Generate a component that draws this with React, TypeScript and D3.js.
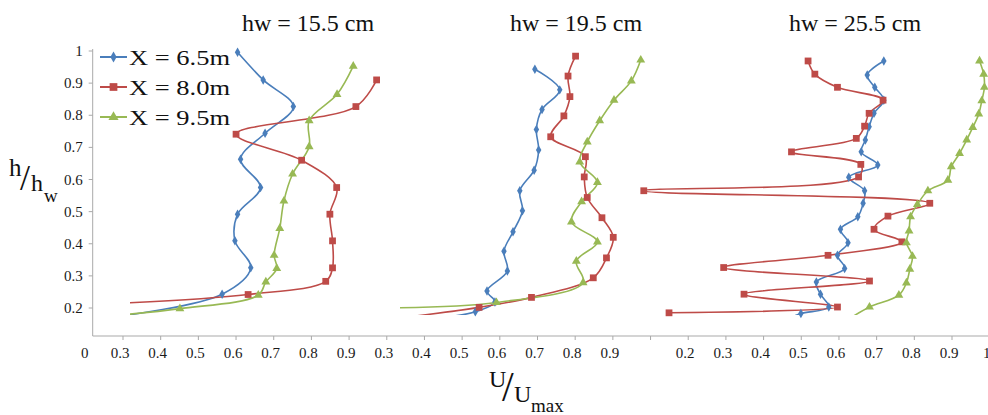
import { useEffect, useRef } from 'react';
import * as d3 from 'd3';

type Pt = [number, number]; // [U/Umax, h/hw]

// panel 1 : hw = 15.5 cm
const p1Blue: Pt[] = [[0.612, 0.996], [0.680, 0.910], [0.760, 0.827], [0.685, 0.744], [0.620, 0.663], [0.673, 0.575], [0.612, 0.492], [0.605, 0.409], [0.647, 0.325], [0.571, 0.243], [0.30, 0.175]];
const p1Red: Pt[] = [[0.981, 0.910], [0.926, 0.827], [0.608, 0.741], [0.782, 0.660], [0.875, 0.575], [0.857, 0.492], [0.864, 0.409], [0.864, 0.325], [0.846, 0.283], [0.640, 0.242], [0.30, 0.215]];
const p1Green: Pt[] = [[0.919, 0.953], [0.876, 0.865], [0.802, 0.783], [0.802, 0.702], [0.758, 0.617], [0.735, 0.533], [0.724, 0.448], [0.709, 0.364], [0.716, 0.323], [0.687, 0.281], [0.667, 0.240], [0.459, 0.198], [0.30, 0.178]];

// panel 2 : hw = 19.5 cm
const p2Blue: Pt[] = [[0.701, 0.943], [0.767, 0.879], [0.720, 0.818], [0.705, 0.756], [0.711, 0.692], [0.699, 0.629], [0.661, 0.565], [0.668, 0.503], [0.643, 0.437], [0.619, 0.377], [0.628, 0.315], [0.574, 0.253], [0.595, 0.219], [0.543, 0.188], [0.45, 0.17]];
const p2Red: Pt[] = [[0.809, 0.984], [0.789, 0.922], [0.794, 0.858], [0.778, 0.798], [0.743, 0.733], [0.835, 0.671], [0.832, 0.608], [0.840, 0.544], [0.879, 0.481], [0.909, 0.420], [0.891, 0.356], [0.856, 0.294], [0.692, 0.233], [0.553, 0.202], [0.35, 0.17]];
const p2Green: Pt[] = [[0.982, 0.972], [0.957, 0.907], [0.911, 0.847], [0.873, 0.783], [0.840, 0.717], [0.820, 0.655], [0.867, 0.591], [0.825, 0.531], [0.798, 0.468], [0.867, 0.406], [0.811, 0.346], [0.829, 0.279], [0.599, 0.217], [0.30, 0.20]];

// panel 3 : hw = 25.5 cm
const p3Blue: Pt[] = [[0.727, 0.969], [0.683, 0.925], [0.703, 0.887], [0.727, 0.847], [0.701, 0.806], [0.688, 0.764], [0.678, 0.723], [0.667, 0.686], [0.711, 0.645], [0.634, 0.607], [0.676, 0.565], [0.672, 0.526], [0.658, 0.484], [0.612, 0.445], [0.632, 0.403], [0.604, 0.364], [0.623, 0.323], [0.548, 0.281], [0.559, 0.243], [0.581, 0.203], [0.507, 0.183], [0.48, 0.17]];
const p3Red: Pt[] = [[0.526, 0.969], [0.544, 0.928], [0.604, 0.887], [0.725, 0.847], [0.688, 0.806], [0.676, 0.766], [0.654, 0.728], [0.482, 0.686], [0.666, 0.647], [0.660, 0.608], [0.090, 0.565], [0.849, 0.526], [0.738, 0.486], [0.701, 0.445], [0.775, 0.406], [0.579, 0.364], [0.302, 0.326], [0.689, 0.284], [0.356, 0.243], [0.604, 0.203], [0.157, 0.185]];
const p3Green: Pt[] = [[0.981, 0.969], [0.992, 0.928], [0.994, 0.887], [0.987, 0.845], [0.979, 0.804], [0.963, 0.762], [0.947, 0.723], [0.928, 0.681], [0.906, 0.640], [0.897, 0.598], [0.844, 0.565], [0.816, 0.522], [0.798, 0.484], [0.794, 0.440], [0.787, 0.403], [0.803, 0.361], [0.796, 0.321], [0.787, 0.278], [0.767, 0.240], [0.689, 0.203], [0.64, 0.17]];

const panelTitles = ['hw = 15.5 cm', 'hw = 19.5 cm', 'hw = 25.5 cm'];
const seriesNames = ['X = 6.5m', 'X = 8.0m', 'X = 9.5m'];
const yTicks = [0.2, 0.3, 0.4, 0.5, 0.6, 0.7, 0.8, 0.9, 1];
const xTicksP1 = [0.3, 0.4, 0.5, 0.6, 0.7, 0.8, 0.9];
const xTicksP2 = [0.3, 0.4, 0.5, 0.6, 0.7, 0.8, 0.9];
const xTicksP3 = [0.1, 0.2, 0.3, 0.4, 0.5, 0.6, 0.7, 0.8, 0.9, 1];
const hiddenLabelsP3 = [0.1];

const FONT = "'Liberation Serif', 'Times New Roman', Times, serif";

export default function App() {
    const svgRef = useRef<SVGSVGElement>(null);

    useEffect(() => {
        if (!svgRef.current) return;
        document.body.style.margin = '0';
        const svg = d3.select(svgRef.current);
        svg.selectAll('*').remove();

        const axisColor = '#a9a9a9';
        const textColor = '#1a1a1a';
        const colors = ['#4a7ebb', '#be4b48', '#98b954'];
        const symbols = [d3.symbolDiamond, d3.symbolSquare, d3.symbolTriangle];
        const symbolSizes = [26, 46, 34];

        // the three panels share one long x axis, each shifted along it
        const offsets = [0, 0.7, 1.6];
        const x = d3.scaleLinear().domain([0.3, 2.5]).range([120, 949]);
        const y = d3.scaleLinear().domain([0.2, 1]).range([308, 51]);
        const axisX = 92.7;
        const axisY = 336;

        const panels = [
            { series: [p1Blue, p1Red, p1Green], ticks: xTicksP1, hidden: [] as number[], clip: [130, 395], titleX: 308 },
            { series: [p2Blue, p2Red, p2Green], ticks: xTicksP2, hidden: [] as number[], clip: [400, 660], titleX: 576 },
            { series: [p3Blue, p3Red, p3Green], ticks: xTicksP3, hidden: hiddenLabelsP3, clip: [636, 988], titleX: 855 },
        ];
        const clipTop = 40;
        const clipBottom = 315;

        const defs = svg.append('defs');
        panels.forEach((p, i) => {
            defs.append('clipPath')
                .attr('id', `clip-${i}`)
                .append('rect')
                .attr('x', p.clip[0])
                .attr('y', clipTop)
                .attr('width', p.clip[1] - p.clip[0])
                .attr('height', clipBottom - clipTop);
        });

        // Y axis
        svg.append('line')
            .attr('x1', axisX).attr('x2', axisX)
            .attr('y1', y(1) - 2).attr('y2', axisY)
            .attr('stroke', axisColor);
        svg.selectAll('.ytick')
            .data(yTicks)
            .enter()
            .append('line')
            .attr('x1', axisX - 4).attr('x2', axisX)
            .attr('y1', d => y(d)).attr('y2', d => y(d))
            .attr('stroke', axisColor);
        svg.selectAll('.ylabel')
            .data(yTicks)
            .enter()
            .append('text')
            .attr('x', axisX - 10)
            .attr('y', d => y(d) + 5)
            .attr('text-anchor', 'end')
            .style('font-size', '15px')
            .attr('fill', textColor)
            .text(d => d === 1 ? '1' : d.toFixed(1));

        // X axis
        svg.append('line')
            .attr('x1', axisX).attr('x2', 988)
            .attr('y1', axisY).attr('y2', axisY)
            .attr('stroke', axisColor);
        svg.append('text')
            .attr('x', axisX - 8)
            .attr('y', 358)
            .attr('text-anchor', 'middle')
            .style('font-size', '15px')
            .attr('fill', textColor)
            .text('0');

        panels.forEach((p, i) => {
            const off = offsets[i];
            const g = svg.append('g');
            g.selectAll('.xtick')
                .data(p.ticks)
                .enter()
                .append('line')
                .attr('x1', d => x(d + off) + 3).attr('x2', d => x(d + off) + 3)
                .attr('y1', axisY).attr('y2', axisY + 4)
                .attr('stroke', axisColor);
            g.selectAll('.xlabel')
                .data(p.ticks.filter(d => !p.hidden.includes(d)))
                .enter()
                .append('text')
                .attr('x', d => x(d + off))
                .attr('y', 358)
                .attr('text-anchor', 'middle')
                .style('font-size', '15px')
                .attr('fill', textColor)
                .text(d => d === 1 ? '1' : d.toFixed(1));

            // panel title
            svg.append('text')
                .attr('x', p.titleX)
                .attr('y', 31)
                .attr('text-anchor', 'middle')
                .style('font-size', '24px')
                .attr('fill', '#111')
                .text(panelTitles[i]);

            const line = d3.line<Pt>()
                .x(d => x(d[0] + off))
                .y(d => y(d[1]))
                .curve(d3.curveCatmullRom.alpha(0.5));

            const plot = svg.append('g').attr('clip-path', `url(#clip-${i})`);
            p.series.forEach((s, k) => {
                plot.append('path')
                    .datum(s)
                    .attr('d', line)
                    .attr('fill', 'none')
                    .attr('stroke', colors[k])
                    .attr('stroke-width', 1.6);
            });

            // markers only for points inside the plot area
            p.series.forEach((s, k) => {
                const inside = s.filter(d => {
                    const px = x(d[0] + off);
                    const py = y(d[1]);
                    return px >= p.clip[0] && px <= p.clip[1] && py <= clipBottom;
                });
                svg.append('g').selectAll('path')
                    .data(inside)
                    .enter()
                    .append('path')
                    .attr('transform', d => `translate(${x(d[0] + off)},${y(d[1])})`)
                    .attr('d', d3.symbol().type(symbols[k]).size(symbolSizes[k])())
                    .attr('fill', colors[k]);
            });
        });

        // Legend
        const legend = svg.append('g');
        seriesNames.forEach((name, k) => {
            const ly = 57 + k * 30;
            legend.append('line')
                .attr('x1', 100).attr('x2', 127)
                .attr('y1', ly).attr('y2', ly)
                .attr('stroke', colors[k]).attr('stroke-width', 2);
            legend.append('path')
                .attr('transform', `translate(113.5,${ly})`)
                .attr('d', d3.symbol().type(symbols[k]).size(symbolSizes[k] * 1.3)())
                .attr('fill', colors[k]);
            legend.append('text')
                .attr('x', 129)
                .attr('y', ly + 7.5)
                .style('font-size', '21px')
                .attr('textLength', 101)
                .attr('lengthAdjust', 'spacingAndGlyphs')
                .attr('fill', '#111')
                .text(name);
        });

        // Y axis title  h/hw
        const yt = svg.append('g').attr('fill', '#111');
        yt.append('text').attr('x', 9).attr('y', 176).style('font-size', '25px').text('h');
        yt.append('text').attr('x', 20).attr('y', 190).style('font-size', '36px').text('/');
        yt.append('text').attr('x', 31).attr('y', 191).style('font-size', '24px').text('h');
        yt.append('text').attr('x', 44).attr('y', 202).style('font-size', '19px').text('w');

        // X axis title  U/Umax
        const xt = svg.append('g').attr('fill', '#111');
        xt.append('text').attr('x', 489).attr('y', 387).style('font-size', '24px').text('U');
        xt.append('text').attr('x', 502).attr('y', 401).style('font-size', '42px').text('/');
        xt.append('text').attr('x', 514).attr('y', 402).style('font-size', '24px').text('U');
        xt.append('text').attr('x', 531).attr('y', 412).style('font-size', '19px').text('max');
    }, []);

    return (
        <svg
            ref={svgRef}
            width={988}
            height={415}
            style={{ display: 'block', background: '#fff', fontFamily: FONT }}
        />
    );
}
